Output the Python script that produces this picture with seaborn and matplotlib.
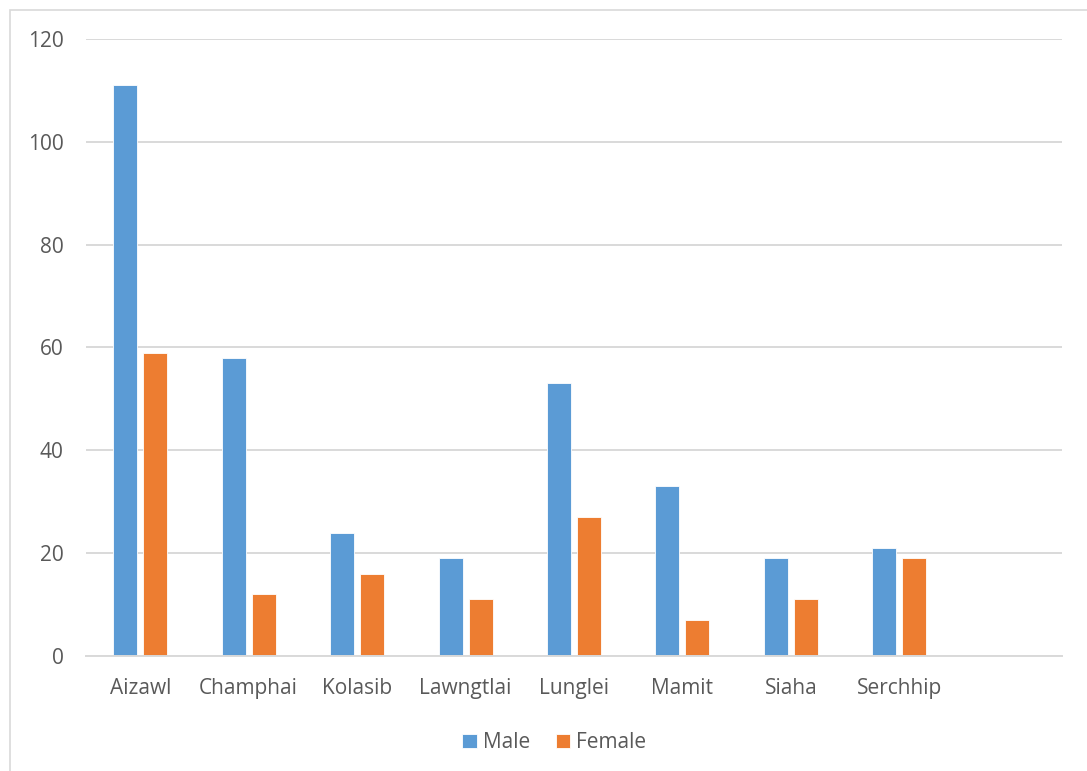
import numpy as np
import pandas as pd
import seaborn as sns
import matplotlib.pyplot as plt
from matplotlib.patches import Rectangle

# dados
districts = ["Aizawl", "Champhai", "Kolasib", "Lawngtlai", "Lunglei", "Mamit", "Siaha", "Serchhip", ""]
male = [111, 58, 24, 19, 53, 33, 19, 21, np.nan]
female = [59, 12, 16, 11, 27, 7, 11, 19, np.nan]

df = pd.DataFrame({"District": districts * 2,
                   "Count": male + female,
                   "Sex": ["Male"] * len(districts) + ["Female"] * len(districts)})

sns.set_style("white")
plt.rcParams['font.family'] = ['Open Sans', 'DejaVu Sans']

fig = plt.figure(figsize=(10.87, 7.71), dpi=100)
ax = fig.add_axes([0.0791, 0.1492, 0.8979, 0.8002])

sns.barplot(data=df, x="District", y="Count", hue="Sex", order=districts,
            palette={"Male": "#5B9BD5", "Female": "#ED7D31"}, saturation=1,
            width=0.554, gap=0.2, edgecolor="white", linewidth=0.6, ax=ax)

ax.set_ylim(0, 120)
ax.set_yticks(range(0, 121, 20))
ax.set_xlim(-0.5, len(districts) - 0.5)
ax.yaxis.grid(True, color="#D9D9D9", linewidth=1.4)
ax.set_axisbelow(True)
for s in ["top", "right", "left"]:
    ax.spines[s].set_visible(False)
ax.spines["bottom"].set_color("#D9D9D9")
ax.spines["bottom"].set_linewidth(1.4)
ax.tick_params(axis="both", length=0, labelsize=15, labelcolor="#595959")
ax.tick_params(axis="y", pad=16)
ax.tick_params(axis="x", pad=16)
ax.set_xlabel("")
ax.set_ylabel("")

ax.legend(loc="center", bbox_to_anchor=(0.48, -0.141), ncol=2, frameon=False,
          fontsize=15, labelcolor="#595959", handlelength=0.7, handleheight=0.7,
          handletextpad=0.3, columnspacing=1.2)

# moldura do gráfico
fig.patches.append(Rectangle((10 / 1087, -0.1), 1.2, 1 - 10 / 771 + 0.1,
                             transform=fig.transFigure, fill=False,
                             edgecolor="#D9D9D9", linewidth=1.2))

fig.savefig("out.png", dpi=100)
